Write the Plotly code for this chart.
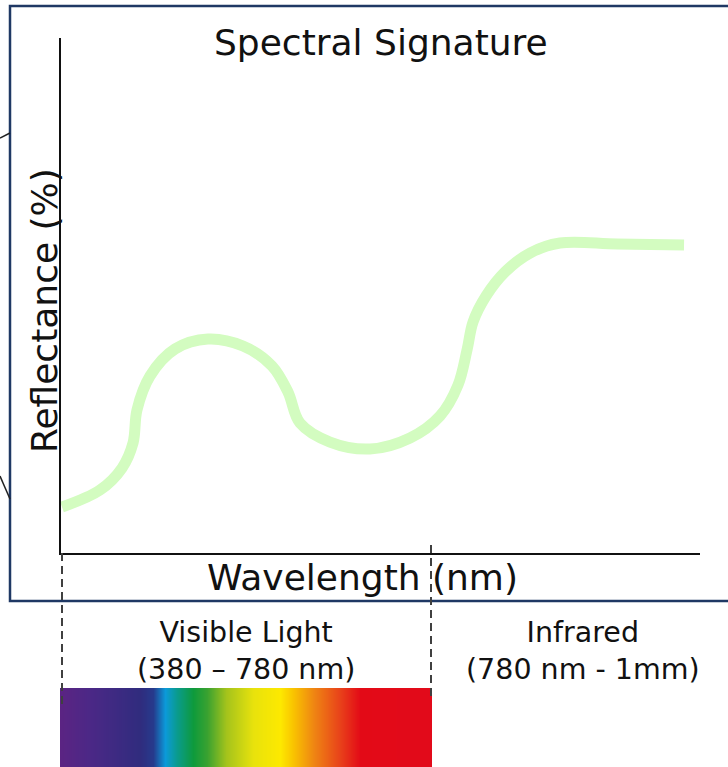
import plotly.graph_objects as go

# ---- data ----
# reflectance curve (relative wavelength units 0-100, reflectance %)
wavelength_rel = [0.16, 6.10, 9.55, 11.27, 11.89, 13.93, 17.84, 23.00, 28.48, 33.02,
                  35.52, 37.40, 42.10, 48.36, 54.62, 59.31, 62.13, 63.54, 64.48, 66.51,
                  69.48, 73.40, 78.09, 87.01, 97.50]
reflectance = [8.93, 12.23, 16.50, 21.36, 27.77, 34.37, 39.61, 41.55, 40.19, 36.31,
               31.26, 25.24, 21.55, 20.19, 22.33, 26.60, 32.62, 39.42, 44.85, 49.90,
               54.56, 58.25, 60.19, 60.00, 59.81]

# visible spectrum colour stops (nm)
spectrum_nm = [380, 412, 466, 480, 493, 506, 523, 538, 559, 588, 617, 631, 653, 681, 703, 780]
spectrum_colors = ["#5b2483", "#4b2886", "#302c7e", "#263a8c", "#0b9ad9", "#0a9b8c",
                   "#0e9a3c", "#3aa230", "#a4c31c", "#e8e20c", "#fde900", "#f9c300",
                   "#ef8413", "#e8411a", "#e30a17", "#e20a1a"]

title_text = "Spectral Signature"
x_title = "Wavelength (nm)"
y_title = "Reflectance (%)"
visible_label = "Visible Light<br>(380 – 780 nm)"
infrared_label = "Infrared<br>(780 nm - 1mm)"

W, H = 728, 767
FONT = "DejaVu Sans"


def px(x):
    return x / W


def py(y):
    return 1 - y / H


fig = go.Figure()

fig.add_trace(go.Scatter(
    x=wavelength_rel, y=reflectance, mode="lines",
    line=dict(color="#d3fcc0", width=11, shape="spline", smoothing=1.0),
    hoverinfo="skip", showlegend=False,
))

lo, hi = spectrum_nm[0], spectrum_nm[-1]
cscale = [[(v - lo) / (hi - lo), c] for v, c in zip(spectrum_nm, spectrum_colors)]
fig.add_trace(go.Heatmap(
    x=spectrum_nm, y=[0], z=[spectrum_nm], colorscale=cscale, zmin=lo, zmax=hi,
    zsmooth="best", showscale=False, hoverinfo="skip", xaxis="x2", yaxis="y2",
))

axis_common = dict(showgrid=False, zeroline=False, showticklabels=False, ticks="",
                   fixedrange=True)

fig.update_layout(
    width=W, height=H,
    margin=dict(l=0, r=0, t=0, b=0),
    paper_bgcolor="white", plot_bgcolor="rgba(0,0,0,0)",
    xaxis=dict(domain=[px(61), px(700)], range=[0, 100], showline=True,
               linecolor="#111111", linewidth=1.5, **axis_common),
    yaxis=dict(domain=[py(553), py(38)], range=[0, 100], showline=True,
               linecolor="#111111", linewidth=1.5, **axis_common),
    xaxis2=dict(domain=[px(60), px(432)], range=[lo, hi], anchor="y2",
                showline=False, **axis_common),
    yaxis2=dict(domain=[0, py(688)], range=[-0.5, 0.5], anchor="x2",
                showline=False, **axis_common),
    showlegend=False,
)

navy = "#1f3864"
dash_col = "#404040"
shapes = [
    # frame
    dict(type="rect", xref="paper", yref="paper", x0=px(10), y0=py(6), x1=px(740), y1=py(601),
         line=dict(color=navy, width=2.5), fillcolor="rgba(0,0,0,0)", layer="below"),
    # fragments of outer lines
    dict(type="line", xref="paper", yref="paper", x0=0, y0=py(138), x1=px(10), y1=py(133),
         line=dict(color="#222222", width=1.5)),
    dict(type="line", xref="paper", yref="paper", x0=0, y0=py(476), x1=px(10), y1=py(499),
         line=dict(color="#222222", width=1.5)),
    # dashed separators
    dict(type="line", xref="paper", yref="paper", x0=px(62), y0=py(553), x1=px(62), y1=py(705),
         line=dict(color=dash_col, width=2, dash="8px,5px")),
    dict(type="line", xref="paper", yref="paper", x0=px(431), y0=py(545), x1=px(431), y1=py(700),
         line=dict(color=dash_col, width=2, dash="8px,5px")),
]
fig.update_layout(shapes=shapes)

txt = dict(family=FONT, color="#111111")
annotations = [
    dict(text=title_text, x=px(381), y=py(42), font=dict(size=36, **txt)),
    dict(text=x_title, x=px(362), y=py(577), font=dict(size=36, **txt)),
    dict(text=y_title, x=px(45), y=py(311), textangle=-90, font=dict(size=36, **txt)),
    dict(text=visible_label, x=px(246), y=py(651), font=dict(size=28.5, **txt)),
    dict(text=infrared_label, x=px(583), y=py(651), font=dict(size=28.5, **txt)),
]
for a in annotations:
    a.update(xref="paper", yref="paper", showarrow=False, xanchor="center", yanchor="middle")
fig.update_layout(annotations=annotations)

fig.write_html("out.html", config={"displayModeBar": False},
               post_script="document.body.style.margin='0';")
